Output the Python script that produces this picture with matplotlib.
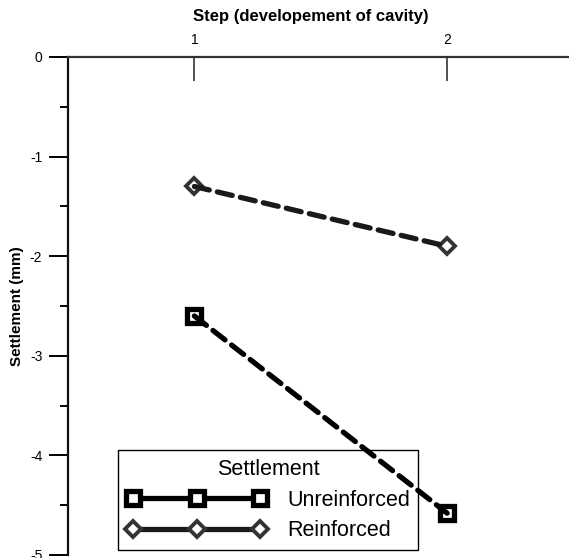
import matplotlib.pyplot as plt
from matplotlib.lines import Line2D

plt.rcParams['font.family'] = ['Liberation Sans', 'DejaVu Sans']
plt.rcParams['lines.scale_dashes'] = False

steps = [1, 2]
unreinforced = [-2.6, -4.58]
reinforced = [-1.3, -1.9]
series_labels = ['Unreinforced', 'Reinforced']
y_ticks = [0, -1, -2, -3, -4, -5]


def main():
    fig = plt.figure(figsize=(5.69, 5.58), dpi=100)
    ax = fig.add_axes([68 / 569, 3 / 558, (573.5 - 68) / 569, (555 - 57) / 558])

    dash = (11, 6)
    # markers first, dashed line drawn over them (as in the original)
    ax.plot(steps, unreinforced, ls='none', marker='s', ms=10, mew=3.8,
            mec='black', mfc='white', zorder=2)
    ax.plot(steps, reinforced, ls='none', marker='D', ms=8, mew=2.8,
            mec='#333333', mfc='white', zorder=2)
    ax.plot(steps, unreinforced, color='black', lw=3.8, dashes=dash,
            dash_capstyle='round', zorder=3)
    ax.plot(steps, reinforced, color='#1a1a1a', lw=3.8, dashes=dash,
            dash_capstyle='round', zorder=3)

    ax.set_xlim(0.5, 2.5)
    ax.set_ylim(-5, 0)

    for s in ['bottom', 'right']:
        ax.spines[s].set_visible(False)
    ax.spines['top'].set_linewidth(1.6)
    ax.spines['top'].set_color('#333333')
    ax.spines['left'].set_linewidth(1.6)
    ax.spines['left'].set_color('#111111')

    ax.xaxis.tick_top()
    ax.set_xticks(steps)
    ax.set_xticklabels([str(s) for s in steps])
    ax.tick_params(axis='x', direction='in', length=17, width=1.1, pad=7,
                   labelsize=10, color='#222222')
    ax.set_yticks(y_ticks)
    ax.set_yticklabels([str(v) for v in y_ticks])
    ax.set_yticks([-0.5, -1.5, -2.5, -3.5, -4.5], minor=True)
    ax.tick_params(axis='y', which='major', direction='out', length=13.5,
                   width=1.4, pad=5, labelsize=10)
    ax.tick_params(axis='y', which='minor', direction='out', length=6,
                   width=1.4)

    ax.set_xlabel('Step (developement of cavity)', fontsize=12,
                  fontweight='bold')
    ax.xaxis.set_label_position('top')
    ax.xaxis.set_label_coords((311 - 68) / (573.5 - 68), 1 + 36 / 498)
    ax.set_ylabel('Settlement (mm)', fontsize=11, fontweight='bold')
    ax.yaxis.set_label_coords(-44 / 505.5, 0.5)

    handles = [
        Line2D([], [], color='black', lw=3.8, marker='s', ms=10, mew=3.8,
               mec='black', mfc='white'),
        Line2D([], [], color='#1a1a1a', lw=3.8, marker='D', ms=8, mew=2.8,
               mec='#333333', mfc='white'),
    ]
    leg = ax.legend(handles, series_labels, title='Settlement',
                    loc='lower left', bbox_to_anchor=(118 / 569, 8 / 558),
                    bbox_transform=fig.transFigure,
                    numpoints=3, handlelength=6.5, fontsize=15.5,
                    title_fontsize=15.5, frameon=True, fancybox=False,
                    framealpha=1, borderpad=0.4, labelspacing=0.45,
                    handletextpad=0.95, borderaxespad=0)
    leg.get_frame().set_edgecolor('black')
    leg.get_frame().set_linewidth(1.0)
    # dashed line passes over the legend box in the original
    leg.set_zorder(1.5)

    fig.savefig('out.png', dpi=100)


if __name__ == '__main__':
    main()
